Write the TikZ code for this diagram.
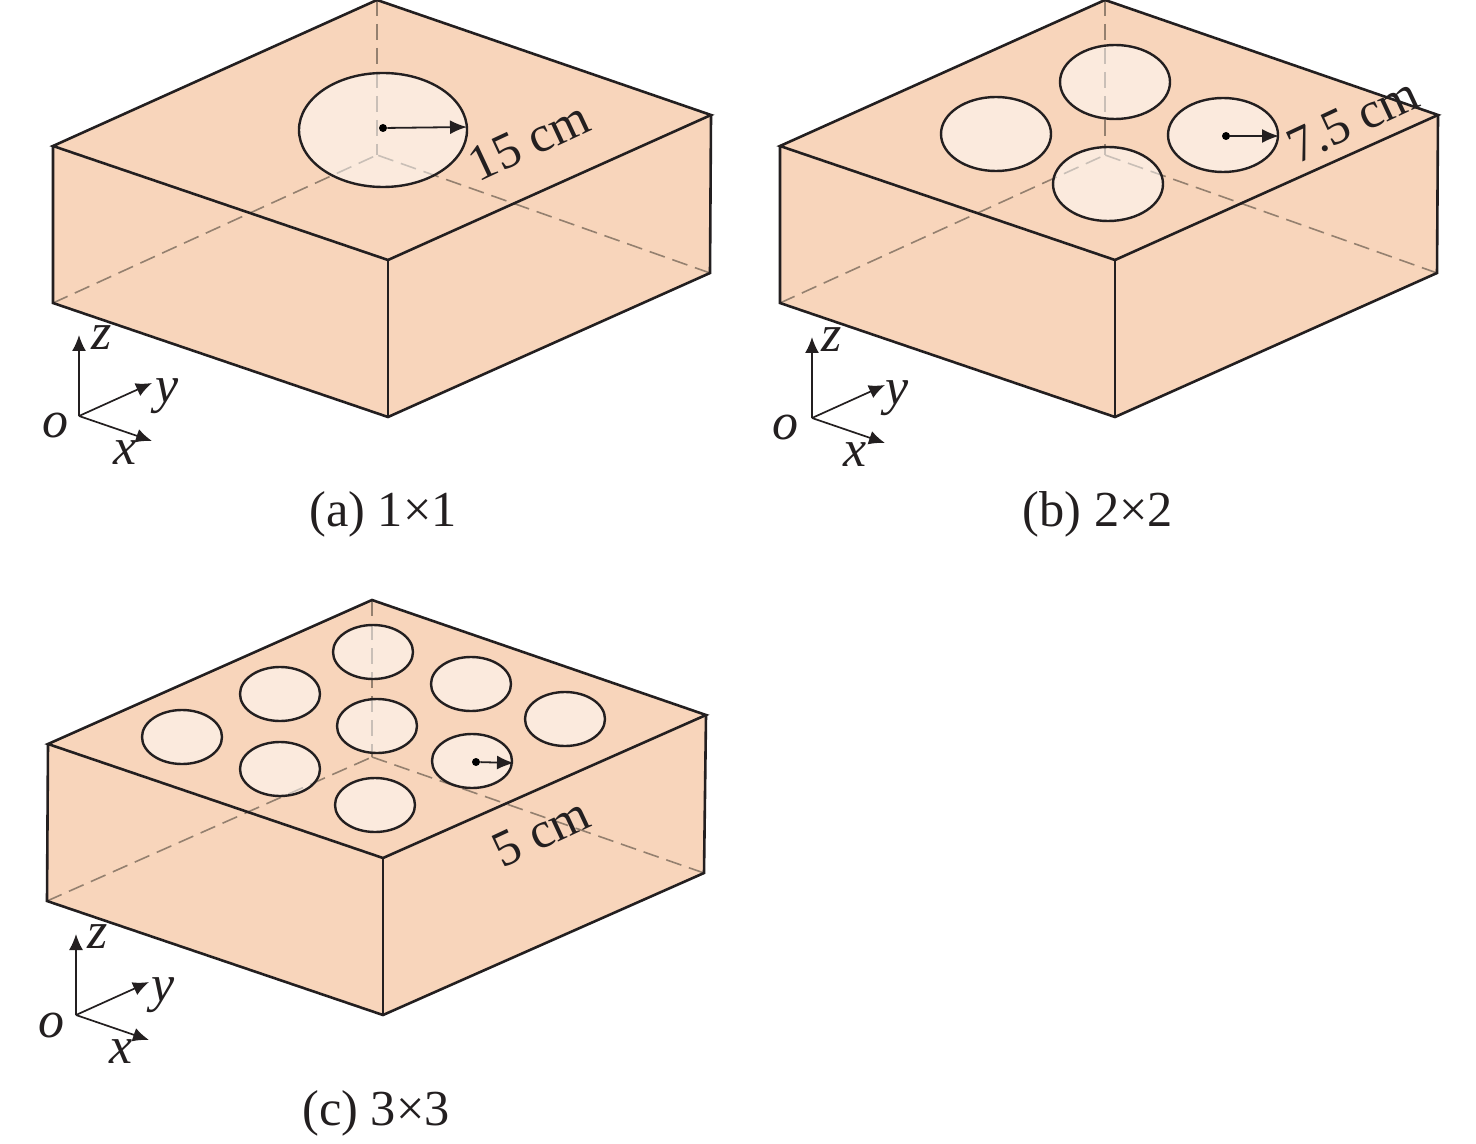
\documentclass[tikz,border=0pt]{standalone}
\usepackage{fontspec}
\setmainfont{Liberation Serif}
\usetikzlibrary{arrows.meta}
\definecolor{boxfill}{HTML}{F8D5BB}
\definecolor{dashcol}{HTML}{94806F}
\definecolor{inkcol}{HTML}{231F20}
\tikzset{
  x=0.5pt,y=-0.5pt,
  edge/.style={draw=inkcol,line width=1.3pt,line join=miter},
  hidden/.style={draw=dashcol,line width=0.8pt,dash pattern=on 8pt off 4pt},
  hole/.style={draw=inkcol,line width=1.2pt,fill=white,fill opacity=0.5},
  axis/.style={draw=inkcol,line width=0.85pt,-{Latex[length=8pt,width=7pt]}},
  radius line/.style={draw=inkcol,line width=0.9pt,-{Latex[length=8.5pt,width=7pt]}},
  centre/.style={circle,fill=black,inner sep=0pt,minimum size=4pt},
  caption/.style={font=\fontsize{25.2}{28}\selectfont,text=inkcol,inner sep=0pt},
  dim/.style={font=\fontsize{25.5}{30}\selectfont,text=inkcol,inner sep=0pt,rotate=25},
  axlabel/.style={font=\fontsize{26}{30}\selectfont\itshape,text=inkcol,inner sep=0pt},
}
% A top-left, B top-back, C top-right, D top-front, E bottom-left, F bottom-front, G bottom-right, H bottom-back
\newcommand{\cuboid}[8]{%
  \fill[boxfill] (#1) -- (#2) -- (#3) -- (#7) -- (#6) -- (#5) -- cycle;
  \draw[hidden] (#2) -- (#8);
  \draw[hidden] (#5) -- (#8);
  \draw[hidden] (#7) -- (#8);
  \draw[edge] (#1) -- (#2) -- (#3) -- (#4) -- cycle;
  \draw[edge] (#1) -- (#5) -- (#6) -- (#7) -- (#3);
  \draw[edge] (#4) -- (#6);
}
\newcommand{\holeat}[4]{\path[hole] (#1,#2) ellipse [x radius=#3,y radius=#4];}
\newcommand{\triad}[3]{%
  \begin{scope}[shift={(#1,#2)}]
    \coordinate (O) at (0,0);
    \coordinate (X) at (73,25);
    \coordinate (Y) at (73,-33);
    \coordinate (Z) at (0,-81);
    \draw[axis] (O) -- (X);
    \draw[axis] (O) -- (Y);
    \draw[axis] (O) -- (Z);
    \begin{scope}[shift={(#3,0)}]
    \node[axlabel] at (-24,10) {o};
    \node[axlabel] at (46,37) {x};
    \node[axlabel] at (88,-20) {y};
    \node[axlabel] at (23,-78) {z};
    \end{scope}
  \end{scope}}
\begin{document}
\begin{tikzpicture}
\useasboundingbox (0,0) rectangle (1476,1144);
% (a)
\cuboid{53,146}{377,0}{711,115}{388,260}{53,303}{388,417}{710,273}{377,155}
\holeat{383}{130}{84}{57}
\node[centre] (ca) at (383,128) {};
\coordinate (ra) at (467,127);
\draw[radius line] (ca) -- (ra);
\node[dim] (la) at (529,141) {15 cm};
\triad{79}{416}{0}
\node[caption] (capa) at (383,514) {(a) 1×1};
% (b)
\cuboid{780,146}{1105,0}{1438,115}{1115,260}{780,303}{1115,417}{1437,273}{1105,155}
\holeat{996}{134}{55}{37}
\holeat{1115}{82}{55}{37}
\holeat{1223}{135}{55}{37}
\holeat{1108}{184}{55}{37}
\node[centre] (cb) at (1226,136) {};
\coordinate (rb) at (1279,136);
\draw[radius line] (cb) -- (rb);
\node[dim] (lb) at (1353,120) {7.5 cm};
\triad{812}{418}{-3}
\node[caption] (capb) at (1098,514) {(b) 2×2};
% (c)
\cuboid{48,744}{372,600}{706,715}{383,858}{47,901}{383,1015}{704,873}{372,757}
\holeat{182}{737}{40}{27}
\holeat{280}{694}{40}{27}
\holeat{373}{652}{40}{27}
\holeat{377}{726}{40}{27}
\holeat{471}{684}{40}{27}
\holeat{565}{719}{40}{27}
\holeat{280}{769}{40}{27}
\holeat{472}{761}{40}{27}
\holeat{375}{805}{40}{27}
\node[centre] (cc) at (476,762) {};
\coordinate (rc) at (514,763);
\draw[radius line] (cc) -- (rc);
\node[dim] (lc) at (541,832) {5 cm};
\triad{76}{1015}{-1}
\node[caption] (capc) at (376,1113) {(c) 3×3};
\end{tikzpicture}
\end{document}
